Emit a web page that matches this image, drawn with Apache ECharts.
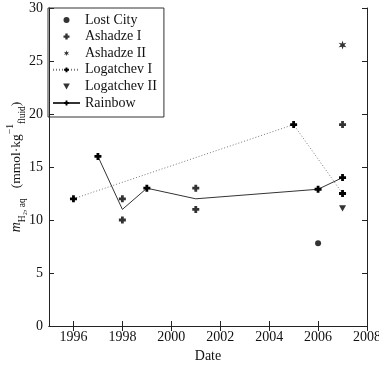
<!DOCTYPE html>
<html>
<head>
<meta charset="utf-8">
<script src="https://cdn.jsdelivr.net/npm/echarts@6/dist/echarts.min.js"></script>
<style>
  html, body { margin: 0; padding: 0; background: #fff; }
  #chart { width: 379px; height: 366px; }
</style>
</head>
<body>
<div id="chart"></div>
<script>
// data
const xTicks = [1996, 1998, 2000, 2002, 2004, 2006, 2008];
const lostCity = [[2006, 7.8]];
const ashadzeI = [[2007, 19]];
const ashadzeII = [[2007, 26.5]];
const logatchevI = [[1996, 12], [2005, 19], [2007, 12.5]];
const logatchevII = [[2007, 11.1]];
const rainbowYears = [1997, 1998, 1999, 2001, 2006, 2007];
const rainbowLine = [16, 11, 13, 12, 12.9, 14];
const rainbowPoints = [[1998, 12], [1998, 10], [2001, 13], [2001, 11]];

const plus = 'path://M3,0h4v3h3v4h-3v3h-4v-3h-3v-4h3z';
const star = 'path://M5,0L6,3.27L9.33,2.5L7,5L9.33,7.5L6,6.73L5,10L4,6.73L0.67,7.5L3,5L0.67,2.5L4,3.27Z';
const triDown = 'path://M0,0L10,0L5,9Z';
const font = 'Liberation Serif';
const ink = '#222';
const txt = '#111';

let chart = echarts.init(document.getElementById('chart'));

let rainbowData = rainbowYears.map((y, i) => {
    let p = { value: [y, rainbowLine[i]] };
    if (y === 1998 || y === 2001) p.symbol = 'none';
    return p;
});

let option = {
    animation: false,
    textStyle: { fontFamily: font },
    grid: { left: 49, right: 12, top: 8, bottom: 40, containLabel: false, outerBoundsMode: 'none' },
    legend: {
        left: 48, top: 8,
        orient: 'vertical',
        itemWidth: 27, itemHeight: 6, itemGap: 0.6,
        padding: [4, 7, 6, 4],
        borderColor: '#333', borderWidth: 1,
        textStyle: { fontFamily: font, fontSize: 14, color: txt, lineHeight: 16 },
        data: ['Lost City', 'Ashadze I', 'Ashadze II', 'Logatchev I', 'Logatchev II', 'Rainbow']
    },
    xAxis: [{
        type: 'value', min: 1995, max: 2008,
        name: 'Date', nameLocation: 'middle', nameGap: 23,
        nameTextStyle: { fontFamily: font, fontSize: 14, color: txt },
        axisLine: { lineStyle: { color: ink } },
        axisTick: { inside: true, length: 5, customValues: xTicks, lineStyle: { color: ink } },
        axisLabel: { customValues: xTicks, formatter: v => String(v), color: txt, fontFamily: font, fontSize: 14, margin: 4 },
        splitLine: { show: false }
    }, {
        type: 'value', min: 1995, max: 2008, position: 'top',
        axisLine: { lineStyle: { color: ink } },
        axisTick: { inside: true, length: 5, customValues: xTicks, lineStyle: { color: ink } },
        axisLabel: { show: false },
        splitLine: { show: false }
    }],
    yAxis: [{
        type: 'value', min: 0, max: 30, interval: 5,
        name: '{m|m}{sub|H₂, aq}   (mmol·kg{sup|−1}{sub|fluid})',
        nameLocation: 'middle', nameGap: 22, nameMoveOverlap: false,
        nameTextStyle: {
            fontFamily: font, fontSize: 13.5, color: txt,
            rich: {
                m: { fontFamily: font, fontSize: 14, fontStyle: 'italic', color: txt, lineHeight: 22 },
                sub: { fontFamily: font, fontSize: 9.5, color: txt, verticalAlign: 'bottom', lineHeight: 22 },
                sup: { fontFamily: font, fontSize: 9.5, color: txt, verticalAlign: 'top', lineHeight: 22 }
            }
        },
        axisLine: { show: true, lineStyle: { color: ink } },
        axisTick: { show: true, inside: true, length: 5, lineStyle: { color: ink } },
        axisLabel: { color: txt, fontFamily: font, fontSize: 14, margin: 6 },
        splitLine: { show: false }
    }, {
        type: 'value', min: 0, max: 30, interval: 5, position: 'right',
        axisLine: { show: true, lineStyle: { color: ink } },
        axisTick: { show: true, inside: true, length: 5, lineStyle: { color: ink } },
        axisLabel: { show: false },
        splitLine: { show: false }
    }],
    series: [
        { name: 'Lost City', type: 'scatter', data: lostCity, symbol: 'circle', symbolSize: 6, itemStyle: { color: '#000' } },
        { name: 'Ashadze I', type: 'scatter', data: ashadzeI, symbol: plus, symbolSize: 7, symbolKeepAspect: true, itemStyle: { color: '#000' } },
        { name: 'Ashadze II', type: 'scatter', data: ashadzeII, symbol: star, symbolSize: 9, symbolKeepAspect: true, itemStyle: { color: '#000' } },
        {
            name: 'Logatchev I', type: 'line', data: logatchevI, symbol: plus, symbolSize: 7, symbolKeepAspect: true,
            itemStyle: { color: '#000' },
            lineStyle: { color: '#777', width: 1, type: [1, 2] }
        },
        { name: 'Logatchev II', type: 'scatter', data: logatchevII, symbol: triDown, symbolSize: 7, symbolKeepAspect: true, itemStyle: { color: '#000' } },
        {
            name: 'Rainbow', type: 'line', data: rainbowData, symbol: plus, symbolSize: 7, symbolKeepAspect: true,
            itemStyle: { color: '#000' },
            lineStyle: { color: '#333', width: 1 }
        },
        { name: 'Rainbow', type: 'scatter', data: rainbowPoints, symbol: plus, symbolSize: 7, symbolKeepAspect: true, itemStyle: { color: '#000' } }
    ]
};

chart.setOption(option);
</script>
</body>
</html>
